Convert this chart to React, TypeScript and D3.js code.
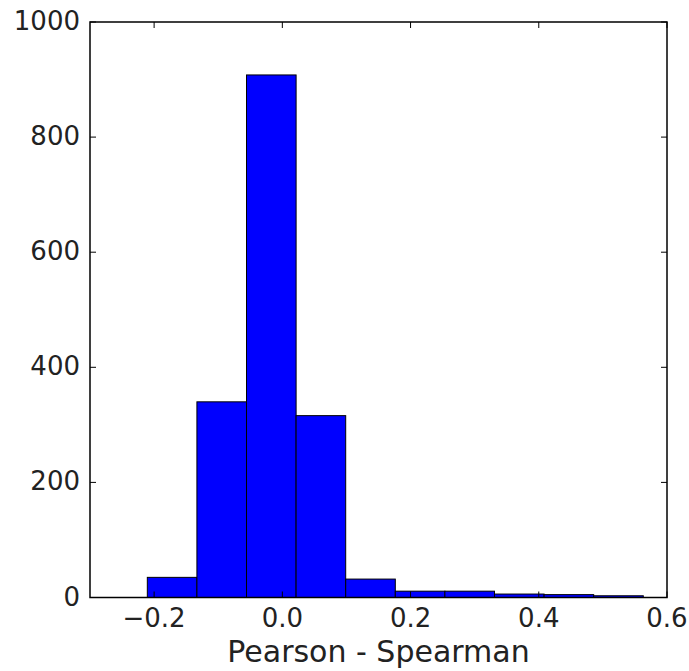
import React from "react";
import * as d3 from "d3";

const binStart = -0.2106;
const binEnd = 0.563;
const counts = [35, 340, 908, 316, 32, 11, 11, 6, 5, 3];
const xTicks = [-0.2, 0.0, 0.2, 0.4, 0.6];
const yTicks = [0, 200, 400, 600, 800, 1000];

const W = 689, H = 671;
const L = 90, R = 667, T = 22, B = 597.5;

export default function App() {
  const x = d3.scaleLinear().domain([-0.3, 0.6]).range([L, R]);
  const y = d3.scaleLinear().domain([0, 1000]).range([B, T]);
  const bw = (binEnd - binStart) / counts.length;
  const bins = counts.map((c, i) => ({ x0: binStart + i * bw, x1: binStart + (i + 1) * bw, c }));
  const fmtX = (v: number) => (v < 0 ? "\u2212" : "") + Math.abs(v).toFixed(1);
  const tl = 6;
  return (
    <svg width={W} height={H} style={{ position: "absolute", left: 0, top: 0, background: "#fff" }}
      fontFamily="DejaVu Sans" >
      <rect x={0} y={0} width={W} height={H} fill="#fff" />
      {bins.map((b, i) => (
        <rect key={i} x={x(b.x0)} y={y(b.c)} width={x(b.x1) - x(b.x0)} height={B - y(b.c)}
          fill="#0000ff" stroke="#000" strokeWidth={1} />
      ))}
      {xTicks.map((t, i) => (
        <g key={"x" + i}>
          <line x1={x(t)} x2={x(t)} y1={B} y2={B - tl} stroke="#000" />
          <line x1={x(t)} x2={x(t)} y1={T} y2={T + tl} stroke="#000" />
          <text x={x(t)} y={627} textAnchor="middle" fontSize={26} fill="#222">{fmtX(t)}</text>
        </g>
      ))}
      {yTicks.map((t, i) => (
        <g key={"y" + i}>
          <line x1={L} x2={L + tl} y1={y(t)} y2={y(t)} stroke="#000" />
          <line x1={R} x2={R - tl} y1={y(t)} y2={y(t)} stroke="#000" />
          <text x={80} y={y(t) + 8} textAnchor="end" fontSize={26} fill="#222">{t}</text>
        </g>
      ))}
      <rect x={L} y={T} width={R - L} height={B - T} fill="none" stroke="#000" strokeWidth={1.5} />
      <text x={(L + R) / 2} y={662} textAnchor="middle" fontSize={30} fill="#222">Pearson - Spearman</text>
    </svg>
  );
}
